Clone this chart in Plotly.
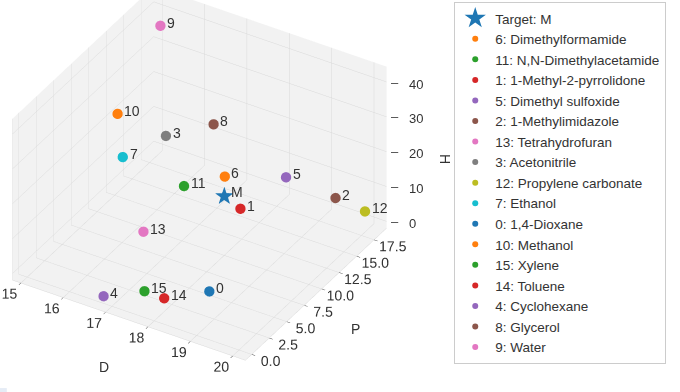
import plotly.graph_objects as go

# ---------------- data ----------------
target_name = "Target: M"
target_label = "M"
target_D = [17.6]
target_P = [12.4]
target_H = [9.2]

ids = ["6", "11", "1", "5", "2", "13", "3", "12", "7", "0", "10", "15", "14", "4", "8", "9"]
names = ["Dimethylformamide", "N,N-Dimethylacetamide", "1-Methyl-2-pyrrolidone",
         "Dimethyl sulfoxide", "1-Methylimidazole", "Tetrahydrofuran", "Acetonitrile",
         "Propylene carbonate", "Ethanol", "1,4-Dioxane", "Methanol", "Xylene",
         "Toluene", "Cyclohexane", "Glycerol", "Water"]
D = [17.4, 16.8, 18.0, 18.4, 19.7, 16.8, 15.3, 20.0, 15.8, 19.0, 15.1, 17.6, 18.0, 16.8, 17.4, 15.5]
P = [13.7, 11.5, 12.3, 16.4, 15.6, 5.7, 18.0, 18.0, 8.8, 1.8, 12.3, 1.0, 1.4, 0.0, 12.1, 16.0]
H = [11.3, 10.2, 7.2, 10.2, 11.2, 8.0, 6.1, 4.1, 19.4, 7.4, 22.3, 3.1, 2.0, 0.2, 29.3, 42.3]

x_ticks = [15, 16, 17, 18, 19, 20]
y_ticks = [0.0, 2.5, 5.0, 7.5, 10.0, 12.5, 15.0, 17.5]
z_ticks = [0, 10, 20, 30, 40]

x_range = [14.8, 20.3]
y_range = [-0.9, 19.3]
z_range = [-1.9, 44.4]

palette = ['#1f77b4', '#ff7f0e', '#2ca02c', '#d62728', '#9467bd',
           '#8c564b', '#e377c2', '#7f7f7f', '#bcbd22', '#17becf']

FONT = "Liberation Sans, Arial, sans-serif"
TXT = "#333333"

fig = go.Figure()

# legend entry for the star (2D dummy trace, not drawn)
fig.add_trace(go.Scatter(x=[None], y=[None], mode="markers", name=target_name,
                         marker=dict(symbol="star", size=16, color=palette[0])))

# star glyph in the 3D scene
fig.add_trace(go.Scatter3d(x=target_D, y=target_P, z=target_H, mode="text",
                           text=["★"], textposition="middle center",
                           textfont=dict(size=24, color=palette[0], family="DejaVu Sans"),
                           showlegend=False, hoverinfo="skip"))

for i, (k, n) in enumerate(zip(ids, names)):
    c = palette[(i + 1) % 10]
    fig.add_trace(go.Scatter3d(
        x=[D[i]], y=[P[i]], z=[H[i]], mode="markers",
        name=f"{k}: {n}",
        marker=dict(size=6, color=c, line=dict(width=0), opacity=1)))

# point labels (as scene annotations so they are never hidden by panes)
annos = []
for k, xd, yp, zh in [(target_label, target_D[0], target_P[0], target_H[0])] + list(zip(ids, D, P, H)):
    annos.append(dict(x=xd, y=yp, z=zh, text=k, showarrow=False,
                      xanchor="left", yanchor="middle", xshift=5, yshift=3,
                      font=dict(size=14, color=TXT, family=FONT)))

# z tick labels on the back-right edge (as in matplotlib)
for v in z_ticks:
    annos.append(dict(x=x_range[1], y=y_range[1], z=v, text="–", showarrow=False,
                      xanchor="left", yanchor="middle", xshift=3, yshift=0,
                      font=dict(size=13, color="#444", family=FONT)))
    annos.append(dict(x=x_range[1], y=y_range[1], z=v, text=str(v), showarrow=False,
                      xanchor="left", yanchor="middle", xshift=21, yshift=-2,
                      font=dict(size=13, color=TXT, family=FONT)))

# axis titles
annos.append(dict(x=x_range[1], y=y_range[1], z=sum(z_range) / 2,
                  text="H", showarrow=False, textangle=90, xshift=58, yshift=-12,
                  font=dict(size=14, color=TXT, family=FONT)))
annos.append(dict(x=sum(x_range) / 2, y=y_range[0], z=z_range[0],
                  text="D", showarrow=False, xshift=-25, yshift=-47,
                  font=dict(size=14, color=TXT, family=FONT)))
annos.append(dict(x=x_range[1], y=sum(y_range) / 2, z=z_range[0],
                  text="P", showarrow=False, xshift=40, yshift=-35,
                  font=dict(size=14, color=TXT, family=FONT)))

axis_common = dict(showbackground=True, backgroundcolor="#f2f2f2",
                   gridcolor="#d9d9d9", gridwidth=1, zeroline=False,
                   showline=True, linecolor="#d9d9d9",
                   ticks="outside", tickcolor="#444", ticklen=4, tickangle=0,
                   tickfont=dict(size=13, color=TXT, family=FONT),
                   showspikes=False)

fig.update_layout(
    width=680, height=392,
    margin=dict(l=0, r=0, t=0, b=0),
    paper_bgcolor="white",
    font=dict(family=FONT, color=TXT, size=14),
    xaxis=dict(visible=False, domain=[0, 0.01]),
    yaxis=dict(visible=False, domain=[0, 0.01]),
    scene=dict(
        domain=dict(x=[0.0, 0.62], y=[0.0, 1.0]),
        xaxis=dict(title=dict(text=""),
                   range=x_range, tickvals=x_ticks, **axis_common),
        yaxis=dict(title=dict(text=""),
                   range=y_range, tickvals=y_ticks,
                   ticktext=[f"{v:.1f}" for v in y_ticks], **axis_common),
        zaxis=dict(title=dict(text=""), showticklabels=False,
                   range=z_range, tickvals=z_ticks,
                   **{k: v for k, v in axis_common.items() if k not in ("ticks",)}),
        aspectmode="manual", aspectratio=dict(x=1.39, y=1.39, z=1.0),
        camera=dict(eye=dict(x=0.674, y=-0.999, z=0.69),
                    center=dict(x=0.05, y=0.03, z=-0.14),
                    projection=dict(type="orthographic")),
        annotations=annos,
    ),
    legend=dict(x=0.668, y=0.995, xanchor="left", yanchor="top",
                bordercolor="#cccccc", borderwidth=1, bgcolor="white",
                font=dict(size=13.5, color=TXT, family=FONT),
                tracegroupgap=0, itemwidth=30),
)

fig.write_html("out.html")
